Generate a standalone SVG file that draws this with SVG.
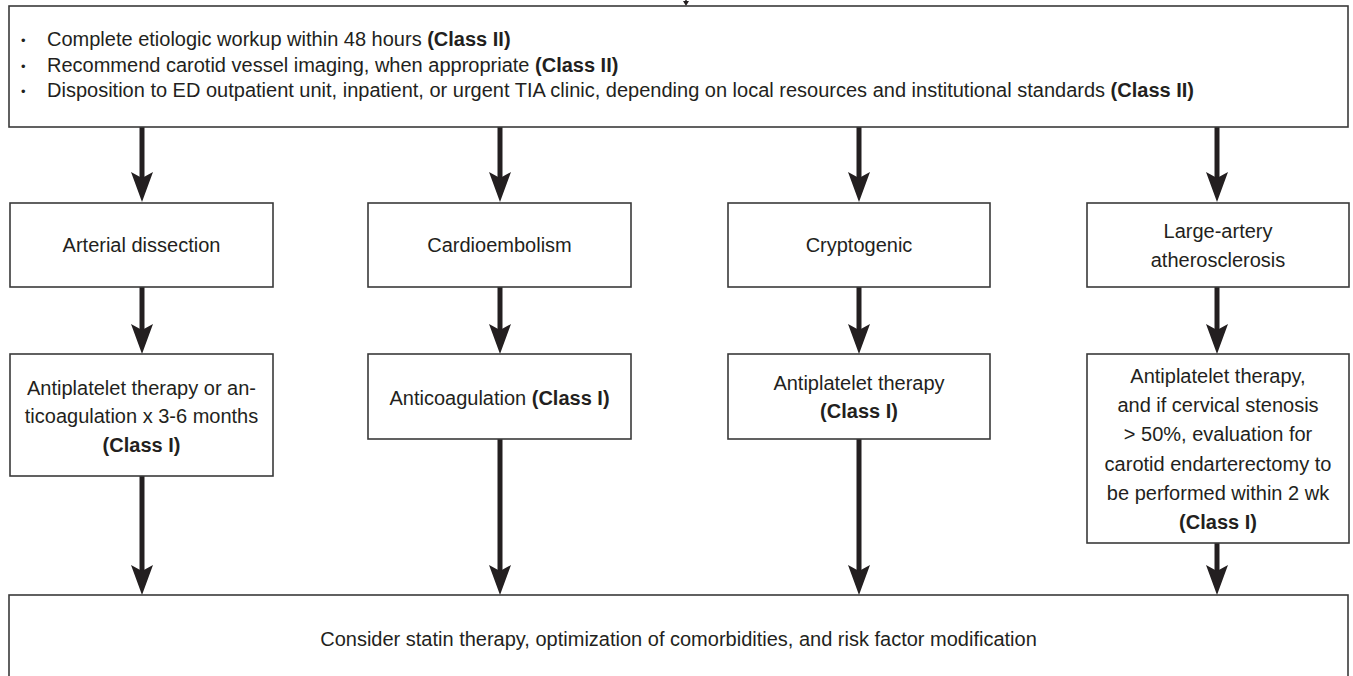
<svg xmlns="http://www.w3.org/2000/svg" width="1353" height="676" viewBox="0 0 1353 676">
<defs>
<style>
.box{fill:#ffffff;stroke:#3a3a3a;stroke-width:1.6}
.t{font-family:"Liberation Sans",Arial,Helvetica,sans-serif;font-size:20px;fill:#231f20}
.c{text-anchor:middle}
.b{font-weight:bold}
.ln{stroke:#231f20;stroke-width:5;fill:none}
.bul{font-family:"Liberation Sans",Arial,sans-serif;font-size:13px;fill:#231f20}
</style>
<marker id="ah" viewBox="0 0 30 24" markerWidth="30" markerHeight="24" refX="10" refY="12" orient="auto" markerUnits="userSpaceOnUse">
<path d="M0,1 L30,12 L0,23 L6,12 Z" fill="#231f20"/>
</marker>
</defs>
<rect width="1353" height="676" fill="#ffffff"/>

<g id="connectors">
<line x1="686" y1="0" x2="686" y2="2" stroke="#231f20" stroke-width="1.5"/>
<path d="M683,1 L689,1 L686,6 Z" fill="#231f20"/>
<line class="ln" x1="142" y1="127" x2="142" y2="182" marker-end="url(#ah)"/>
<line class="ln" x1="500" y1="127" x2="500" y2="182" marker-end="url(#ah)"/>
<line class="ln" x1="859" y1="127" x2="859" y2="182" marker-end="url(#ah)"/>
<line class="ln" x1="1217" y1="127" x2="1217" y2="182" marker-end="url(#ah)"/>
<line class="ln" x1="142" y1="287" x2="142" y2="334" marker-end="url(#ah)"/>
<line class="ln" x1="500" y1="287" x2="500" y2="334" marker-end="url(#ah)"/>
<line class="ln" x1="859" y1="287" x2="859" y2="334" marker-end="url(#ah)"/>
<line class="ln" x1="1217" y1="287" x2="1217" y2="334" marker-end="url(#ah)"/>
<line class="ln" x1="142" y1="476" x2="142" y2="575" marker-end="url(#ah)"/>
<line class="ln" x1="500" y1="439" x2="500" y2="575" marker-end="url(#ah)"/>
<line class="ln" x1="859" y1="439" x2="859" y2="575" marker-end="url(#ah)"/>
<line class="ln" x1="1217" y1="543" x2="1217" y2="575" marker-end="url(#ah)"/>
</g>

<g id="workup">
<rect class="box" x="9" y="6" width="1339" height="121"/>
<text class="bul" x="21" y="45">•</text>
<text class="bul" x="21" y="71">•</text>
<text class="bul" x="21" y="96">•</text>
<text class="t" x="47" y="46">Complete etiologic workup within 48 hours <tspan class="b">(Class II)</tspan></text>
<text class="t" x="47" y="72">Recommend carotid vessel imaging, when appropriate <tspan class="b">(Class II)</tspan></text>
<text class="t" x="47" y="97">Disposition to ED outpatient unit, inpatient, or urgent TIA clinic, depending on local resources and institutional standards <tspan class="b">(Class II)</tspan></text>
</g>

<g id="arterial-dissection">
<rect class="box" x="10" y="203" width="263" height="84"/>
<text class="t c" x="141.5" y="252">Arterial dissection</text>
</g>
<g id="cardioembolism">
<rect class="box" x="368" y="203" width="263" height="84"/>
<text class="t c" x="499.5" y="252">Cardioembolism</text>
</g>
<g id="cryptogenic">
<rect class="box" x="728" y="203" width="262" height="84"/>
<text class="t c" x="859" y="252">Cryptogenic</text>
</g>
<g id="large-artery">
<rect class="box" x="1087" y="203" width="262" height="84"/>
<text class="t c" x="1218" y="238">Large-artery</text>
<text class="t c" x="1218" y="267">atherosclerosis</text>
</g>

<g id="tx-dissection">
<rect class="box" x="10" y="354" width="263" height="122"/>
<text class="t c" x="141.5" y="395">Antiplatelet therapy or an-</text>
<text class="t c" x="141.5" y="423">ticoagulation x 3-6 months</text>
<text class="t c b" x="141.5" y="452">(Class I)</text>
</g>
<g id="tx-cardioembolism">
<rect class="box" x="368" y="354" width="263" height="85"/>
<text class="t c" x="499.5" y="405">Anticoagulation <tspan class="b">(Class I)</tspan></text>
</g>
<g id="tx-cryptogenic">
<rect class="box" x="728" y="354" width="262" height="85"/>
<text class="t c" x="859" y="390">Antiplatelet therapy</text>
<text class="t c b" x="859" y="418">(Class I)</text>
</g>
<g id="tx-large-artery">
<rect class="box" x="1087" y="354" width="262" height="189"/>
<text class="t c" x="1218" y="383">Antiplatelet therapy,</text>
<text class="t c" x="1218" y="412">and if cervical stenosis</text>
<text class="t c" x="1218" y="441">&gt; 50%, evaluation for</text>
<text class="t c" x="1218" y="471">carotid endarterectomy to</text>
<text class="t c" x="1218" y="500">be performed within 2 wk</text>
<text class="t c b" x="1218" y="529">(Class I)</text>
</g>

<g id="statin">
<rect class="box" x="9" y="595" width="1339" height="100"/>
<text class="t c" x="678.5" y="646">Consider statin therapy, optimization of comorbidities, and risk factor modification</text>
</g>
</svg>
